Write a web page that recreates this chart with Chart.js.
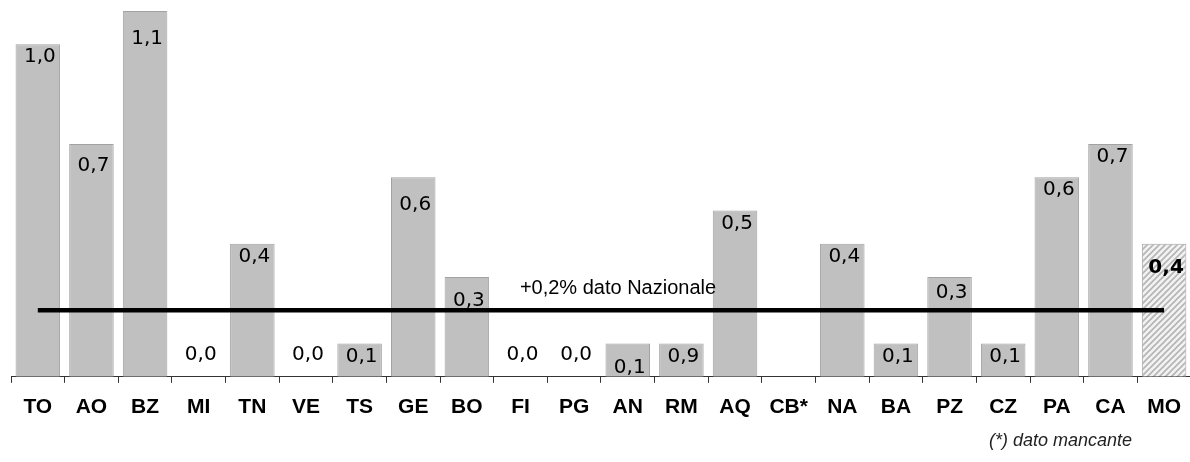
<!DOCTYPE html>
<html>
<head>
<meta charset="utf-8">
<script src="https://cdn.jsdelivr.net/npm/chart.js"></script>
<style>
  html, body { margin: 0; padding: 0; background: #fff; overflow: hidden; }
  #wrap { width: 1193px; height: 462px; }
</style>
</head>
<body>
<div id="wrap"><canvas id="myChart"></canvas></div>
<script>
// categories and values
let sedi = ["TO","AO","BZ","MI","TN","VE","TS","GE","BO","FI","PG","AN","RM","AQ","CB*","NA","BA","PZ","CZ","PA","CA","MO"];
let valori = [1.0,0.7,1.1,0,0.4,0,0.1,0.6,0.3,0,0,0.1,0.1,0.5,null,0.4,0.1,0.3,0.1,0.6,0.7,0.4];
// the printed labels (RM reads 0,9 in the original even if its bar is 0,1)
let etichette = ["1,0","0,7","1,1","0,0","0,4","0,0","0,1","0,6","0,3","0,0","0,0","0,1","0,9","0,5","","0,4","0,1","0,3","0,1","0,6","0,7","0,4"];
let nazionale = 0.2;
let nazionaleTesto = "+0,2% dato Nazionale";
let nota = "(*) dato mancante";

// hatch for the last bar (MO)
function makeHatch(){
    let c = document.createElement("canvas");
    c.width = 6; c.height = 6;
    let g = c.getContext("2d");
    g.fillStyle = "#f2f2f2";
    g.fillRect(0, 0, 6, 6);
    g.strokeStyle = "#b4b4b4";
    g.lineWidth = 1.6;
    g.beginPath();
    g.moveTo(0, 6); g.lineTo(6, 0);
    g.moveTo(-3, 3); g.lineTo(3, -3);
    g.moveTo(3, 9); g.lineTo(9, 3);
    g.stroke();
    return g.createPattern(c, "repeat");
}
let hatch = makeHatch();

let barColors = sedi.map(function(s){ return s == "MO" ? hatch : "#c0c0c0"; });

// extra drop (px) for labels that sit lower inside the bar
let labelDrop = {1: 22, 2: 28, 7: 28, 8: 24, 11: 24, 17: 16, 21: 24};

const valueLabels = {
    id: "valueLabels",
    afterDatasetDraw(chart, args){
        if (args.index !== 0) return;
        let ctx = chart.ctx;
        let meta = args.meta;
        let yBase = chart.scales.y.getPixelForValue(0);
        ctx.save();
        ctx.fillStyle = "#000";
        ctx.textAlign = "center";
        ctx.textBaseline = "middle";
        meta.data.forEach(function(bar, i){
            if (!etichette[i]) return;
            ctx.font = (sedi[i] == "MO" ? "bold " : "") + "20px 'DejaVu Sans'";
            let y;
            if (valori[i] === 0) {
                y = yBase - 22;
            } else {
                y = bar.y + (labelDrop[i] !== undefined ? labelDrop[i] : 13);
            }
            ctx.fillText(etichette[i], bar.x + 2, y);
        });
        ctx.restore();
    },
    afterDraw(chart){
        let ctx = chart.ctx;
        ctx.save();
        ctx.fillStyle = "#000";
        ctx.textAlign = "center";
        ctx.textBaseline = "middle";
        ctx.font = "20px 'Liberation Sans', Arial";
        ctx.fillText(nazionaleTesto, 618, 288);
        ctx.textAlign = "left";
        ctx.font = "italic 18px 'Liberation Sans', Arial";
        ctx.fillStyle = "#222";
        ctx.fillText(nota, 989, 441);
        ctx.restore();
    }
};

new Chart("myChart", {
    type: "bar",
    data: {
        labels: sedi,
        datasets: [{
            data: valori,
            backgroundColor: barColors,
            borderColor: "#a2a2a2",
            borderWidth: 1,
            categoryPercentage: 1,
            barPercentage: 0.83,
            order: 2
        }, {
            type: "line",
            data: sedi.map(function(){ return nazionale; }),
            borderColor: "#000",
            borderWidth: 4.5,
            pointRadius: 0,
            fill: false,
            order: 1
        }]
    },
    options: {
        responsive: true,
        maintainAspectRatio: false,
        animation: false,
        layout: { padding: { left: 11, top: 11, right: 0, bottom: 30 } },
        plugins: {
            legend: { display: false },
            tooltip: { enabled: false }
        },
        scales: {
            y: { display: false, min: 0, max: 1.1 },
            x: {
                grid: { drawOnChartArea: false, drawTicks: true, tickLength: 6, color: "#333", offset: true },
                border: { color: "#333", width: 1 },
                ticks: {
                    color: "#000",
                    padding: 12,
                    font: { family: "'Liberation Sans', Arial", size: 21, weight: "bold" },
                    maxRotation: 0,
                    autoSkip: false
                }
            }
        }
    },
    plugins: [valueLabels]
});
</script>
</body>
</html>
